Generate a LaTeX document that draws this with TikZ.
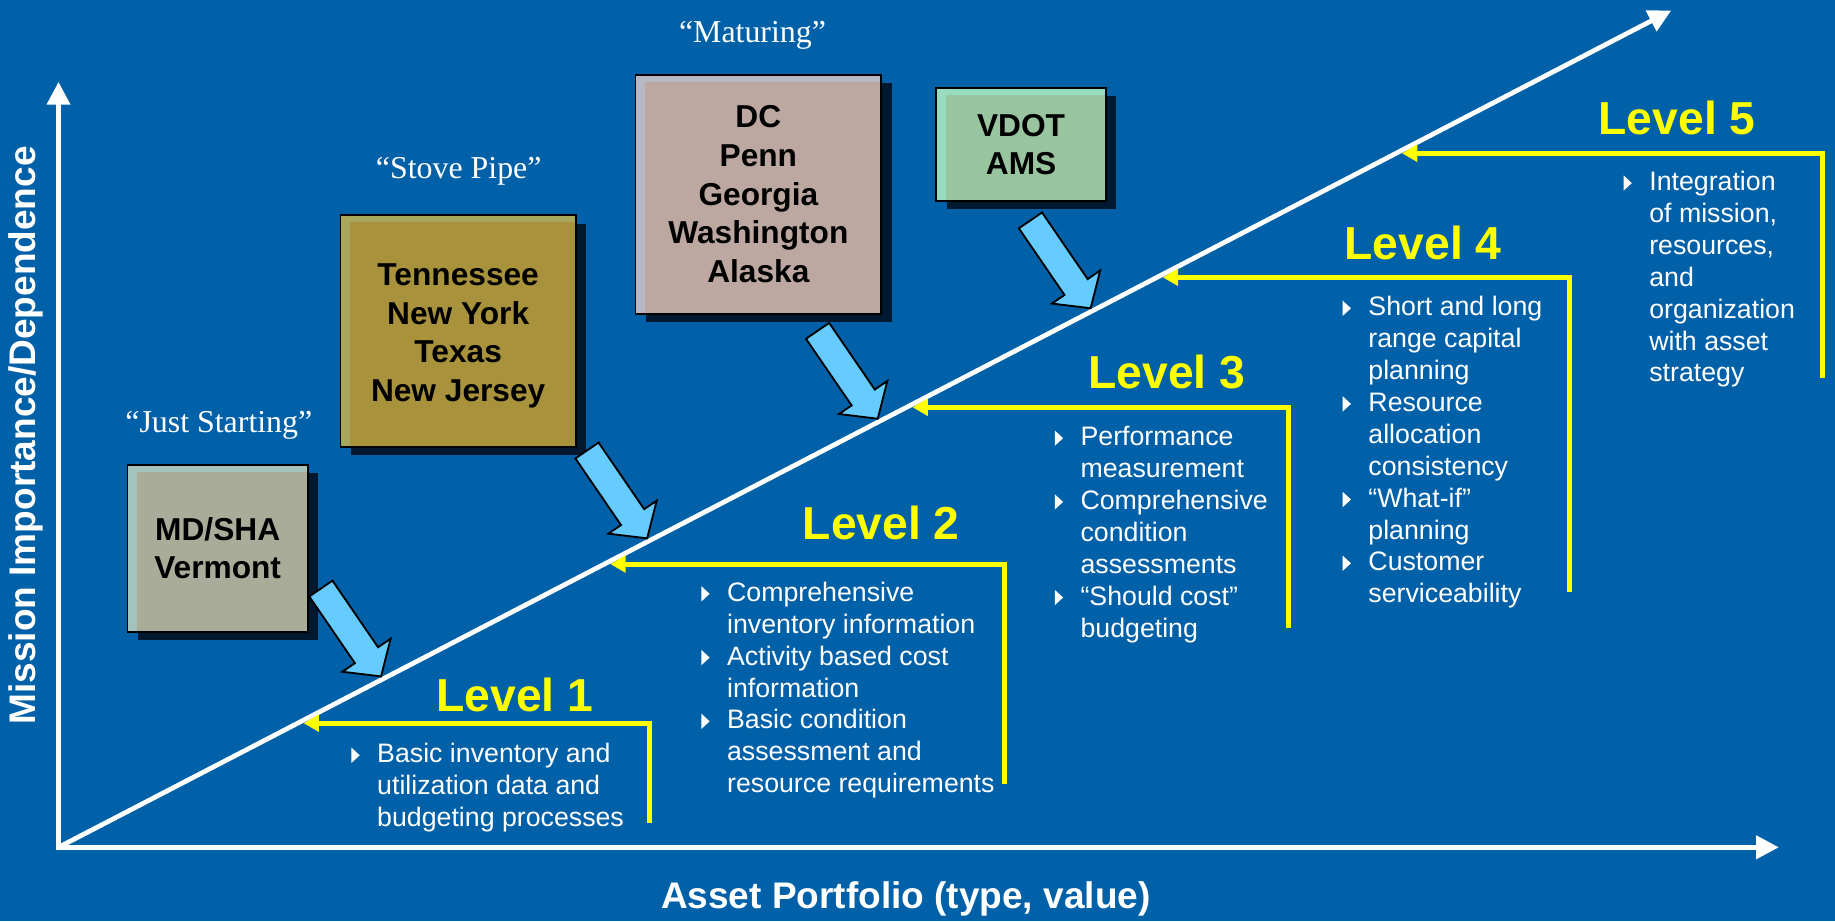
\documentclass[tikz,border=0pt]{standalone}
\usepackage{fontspec}
\setmainfont{Liberation Sans}
\newfontfamily\quotefont{Liberation Serif}
\usetikzlibrary{arrows.meta, calc, shadows}

\definecolor{bgblue}{RGB}{0,96,168}
\definecolor{shadowblue}{RGB}{0,24,48}
\definecolor{arrowblue}{RGB}{102,204,255}
\definecolor{lvlyellow}{RGB}{255,255,0}
\definecolor{mdTop}{RGB}{163,196,188}
\definecolor{mdFill}{RGB}{168,172,152}
\definecolor{tnTop}{RGB}{168,168,92}
\definecolor{tnFill}{RGB}{168,146,60}
\definecolor{dcTop}{RGB}{184,184,196}
\definecolor{dcFill}{RGB}{188,168,160}
\definecolor{vdTop}{RGB}{152,220,192}
\definecolor{vdFill}{RGB}{152,196,160}

\newcommand{\bul}{\makebox[12.5pt][l]{\tikz[baseline=0pt]\fill (0,0) -- (4pt,3.7pt) -- (0,7.4pt) -- cycle;}}
\newcommand{\cont}{\hspace*{12.5pt}}

\begin{document}
\begin{tikzpicture}[x=0.2mm, y=-0.2mm,
	axis/.style={white, line width=2.3pt, line join=miter},
	lvlline/.style={lvlyellow, line width=2.4pt, line join=miter, -{Triangle[length=7.5pt, width=8pt]}},
	lvltitle/.style={text=lvlyellow, font=\fontsize{22.5}{27}\selectfont\bfseries},
	lvltext/.style={text=white, font=\fontsize{13}{15.5}\selectfont, align=left, anchor=north west, inner sep=0pt},
	statebox/.style 2 args={draw=black, line width=0.9pt, fill=#1, inner sep=0pt,
		path picture={\fill[#2] ([xshift=1.6mm, yshift=-1.2mm]path picture bounding box.north west) rectangle (path picture bounding box.south east);},
		drop shadow={shadow xshift=1.8mm, shadow yshift=-1.4mm, opacity=1, fill=shadowblue}},
	boxtext/.style={font=\fontsize{15.4}{18.8}\selectfont\bfseries, align=center, inner sep=0pt},
	stage/.style={text=white, font=\quotefont\fontsize{15.5}{18}\selectfont},
	axislabel/.style={text=white, font=\fontsize{18}{21}\selectfont\bfseries},
	blockarrow/.style={fill=arrowblue, draw=black, line width=0.9pt, line join=miter}]

	% background
	\fill[bgblue] (0,0) rectangle (1568,787);
	\useasboundingbox (0,0) rectangle (1568,787);

	% axes and the maturity line
	\coordinate (O) at (50,724);
	\coordinate (ytop) at (50,70);
	\coordinate (xend) at (1520,724);
	\coordinate (D) at (1428,9);
	\draw[axis, {Triangle[length=11pt, width=11pt]}-{Triangle[length=11pt, width=11pt]}] (ytop) -- (O) -- (xend);
	\draw[axis, -{Triangle[length=11pt, width=11pt]}] (O) -- (D);
	\node[axislabel, rotate=90] (ylab) at (22,372) {Mission Importance/Dependence};
	\node[axislabel] (xlab) at (774,768) {Asset Portfolio (type, value)};

	% level brackets
	\foreach \n/\t/\xr/\yb in {1/0.1483/555/703, 2/0.3385/858/670, 3/0.5259/1101/537, 4/0.6811/1341/506, 5/0.8294/1557/323}
	{
		\coordinate (d\n) at ($(O)!\t!(D)+(5,0)$);
		\coordinate (b\n) at (\xr,\yb);
		\draw[lvlline] (b\n) |- (d\n);
	}

	\node[lvltitle] (lvl1) at (440,594) {Level 1};
	\node[lvltitle] (lvl2) at (753,447) {Level 2};
	\node[lvltitle] (lvl3) at (997,318) {Level 3};
	\node[lvltitle] (lvl4) at (1216,208) {Level 4};
	\node[lvltitle] (lvl5) at (1433,101) {Level 5};

	\node[lvltext] (txt1) at (300,635) {\bul Basic inventory and\\
		\cont utilization data and\\
		\cont budgeting processes};
	\node[lvltext] (txt2) at (599,497) {\bul Comprehensive\\
		\cont inventory information\\
		\bul Activity based cost\\
		\cont information\\
		\bul Basic condition\\
		\cont assessment and\\
		\cont resource requirements};
	\node[lvltext] (txt3) at (901,364) {\bul Performance\\
		\cont measurement\\
		\bul Comprehensive\\
		\cont condition\\
		\cont assessments\\
		\bul “Should cost”\\
		\cont budgeting};
	\node[lvltext] (txt4) at (1147,253) {\bul Short and long\\
		\cont range capital\\
		\cont planning\\
		\bul Resource\\
		\cont allocation\\
		\cont consistency\\
		\bul “What-if”\\
		\cont planning\\
		\bul Customer\\
		\cont serviceability};
	\node[lvltext] (txt5) at (1387,146) {\bul Integration\\
		\cont of mission,\\
		\cont resources,\\
		\cont and\\
		\cont organization\\
		\cont with asset\\
		\cont strategy};

	% state boxes
	\node[statebox={mdTop}{mdFill}, minimum width=30.8mm, minimum height=28.6mm] (mdsha) at (186,468.5) {};
	\node[boxtext] (mdsha-t) at (mdsha.center) {MD/SHA\\Vermont};

	\node[statebox={tnTop}{tnFill}, minimum width=40.2mm, minimum height=39.6mm] (tenn) at (391.5,283) {};
	\node[boxtext] (tenn-t) at ([yshift=-0.8mm]tenn.center) {Tennessee\\New York\\Texas\\New Jersey};

	\node[statebox={dcTop}{dcFill}, minimum width=42mm, minimum height=40.8mm] (dc) at (648,166) {};
	\node[boxtext] (dc-t) at (dc.center) {DC\\Penn\\Georgia\\Washington\\Alaska};

	\node[statebox={vdTop}{vdFill}, minimum width=29mm, minimum height=19.4mm] (vdot) at (872.5,123.5) {};
	\node[boxtext] (vdot-t) at (vdot.center) {VDOT\\AMS};

	\node[stage] (q1) at (187,363) {“Just Starting”};
	\node[stage] (q2) at (392,146) {“Stove Pipe”};
	\node[stage] (q3) at (643,30) {“Maturing”};

	% block arrows onto the maturity line
	\coordinate (a1) at ($(O)!0.2!(D)+(0,-3)$);
	\coordinate (a2) at ($(O)!0.365!(D)+(0,-3)$);
	\coordinate (a3) at ($(O)!0.508!(D)+(0,-3)$);
	\coordinate (a4) at ($(O)!0.64!(D)+(0,-3)$);
	\foreach \tip in {a1,a2,a3,a4}
		\draw[blockarrow, shift={(\tip)}, rotate=-55.6] (0,0) -- (-22,25) -- (-22,12) -- (-91,12) -- (-91,-12) -- (-22,-12) -- (-22,-25) -- cycle;
\end{tikzpicture}
\end{document}
